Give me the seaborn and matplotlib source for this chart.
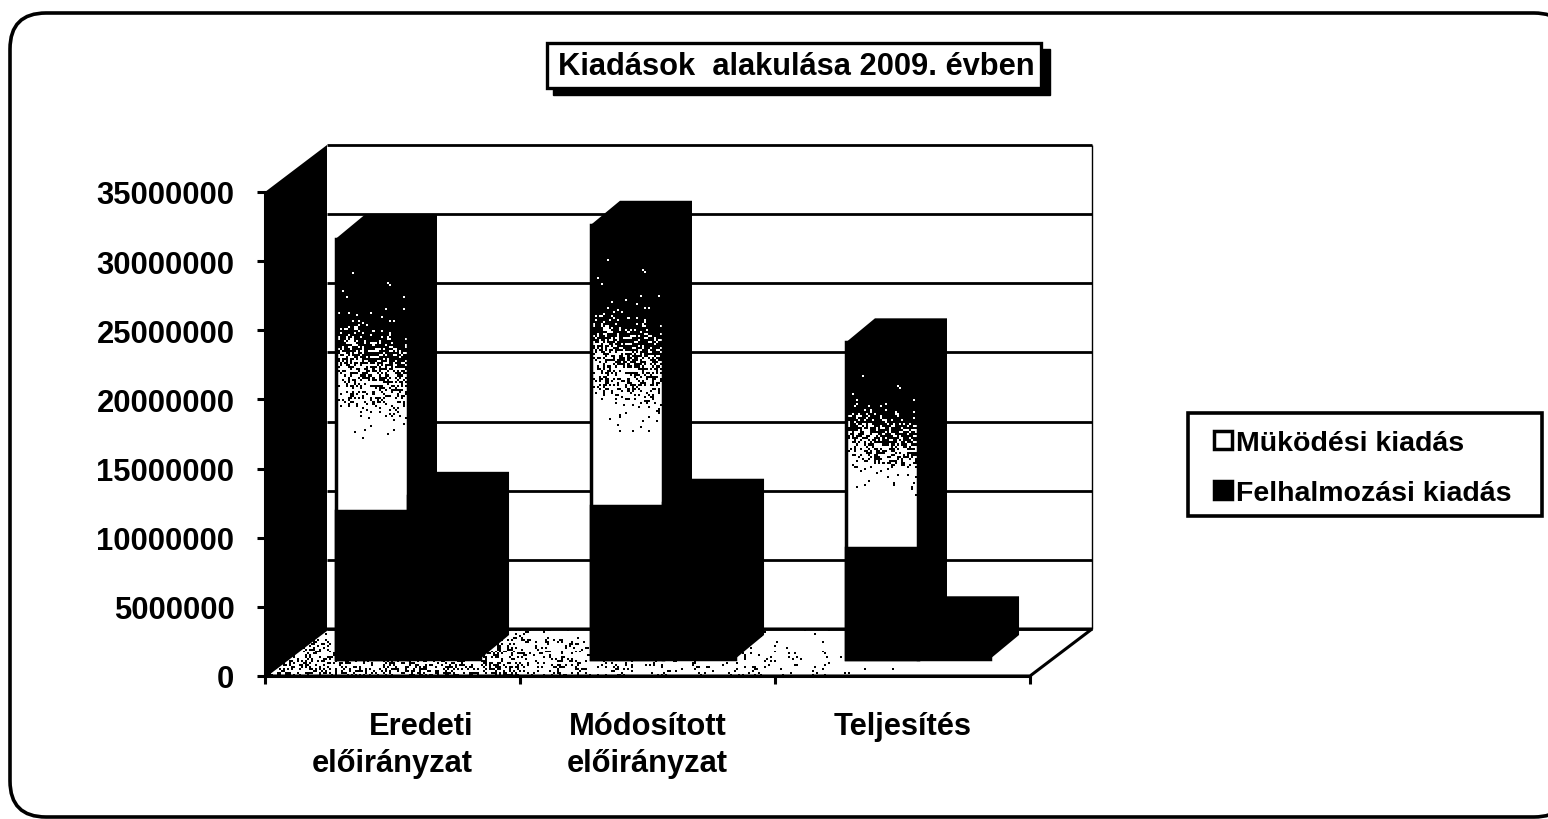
import numpy as np
import pandas as pd
import seaborn as sns
import matplotlib.pyplot as plt
from matplotlib.patches import FancyBboxPatch, Rectangle, Polygon

W, H = 1548, 820

categories = ["Eredeti\nelőirányzat", "Módosított\nelőirányzat", "Teljesítés"]
series_names = ["Müködési kiadás", "Felhalmozási kiadás"]
mukodesi = [30400000, 31400000, 22900000]
felhalmozasi = [11800000, 11300000, 2800000]
# dark lower part of the white bars (gradient fill in the original)
mukodesi_dark = [10700000, 11100000, 8000000]
y_ticks = [0, 5000000, 10000000, 15000000, 20000000, 25000000, 30000000, 35000000]
y_labels = ["0", "5000000", "10000000", "15000000", "20000000", "25000000", "30000000", "35000000"]

# axes box in pixels, the rest follows from it
left, right, top, bottom = 265, 1030, 193, 677
px_x = 3 / (right - left)
px_y = 35000000 / (bottom - top)

wall_dx, wall_dy = 62 * px_x, 47 * px_y      # depth of the whole chart
plane_dx, plane_dy = 15.5 * px_x, 17 * px_y  # where bar fronts stand on the floor
bar_dx, bar_dy = 29 * px_x, 24 * px_y        # depth of a bar


def speckle(shape):
    # stipple texture for the scanned look, not data
    r, c = np.indices(shape)
    v = np.sin(r * 12.9898 + c * 78.233) * 43758.5453
    return v - np.floor(v)


def stipple_image(density):
    img = np.ones(density.shape + (4,))
    img[..., :3] = 0
    img[..., 3] = speckle(density.shape) < density
    return img


sns.set_theme(style="white")
plt.rcParams["font.family"] = ["Liberation Sans", "DejaVu Sans"]
plt.rcParams["font.weight"] = "bold"

fig = plt.figure(figsize=(W / 100, H / 100), dpi=100, facecolor="white")

# frame, title box and legend box live on a full figure layer in pixels
bg = fig.add_axes([0, 0, 1, 1], zorder=0)
bg.set_xlim(0, W)
bg.set_ylim(H, 0)
bg.axis("off")
bg.add_patch(FancyBboxPatch((10, 14), 1560, 804, boxstyle="round,pad=0,rounding_size=36",
                            fc="white", ec="black", lw=2.6, clip_on=True))
bg.add_patch(Rectangle((553, 50), 497, 46, fc="black", ec="black"))
bg.add_patch(Rectangle((547, 44), 494, 45, fc="white", ec="black", lw=2.4))
bg.text(796, 67, "Kiadások  alakulása 2009. évben", ha="center", va="center", fontsize=22.2,
        fontweight="bold", color="black")
bg.add_patch(Rectangle((1188, 414), 354, 103, fc="white", ec="black", lw=2.6))

ax = fig.add_axes([left / W, 1 - bottom / H, (right - left) / W, (bottom - top) / H], zorder=1)
ax.patch.set_alpha(0)

df = pd.DataFrame({"kategoria": categories, series_names[0]: mukodesi, series_names[1]: felhalmozasi})
df = df.melt(id_vars="kategoria", var_name="sorozat", value_name="ertek")
sns.barplot(data=df, x="kategoria", y="ertek", hue="sorozat", palette=["white", "black"],
            width=0.565, gap=0, edgecolor="black", linewidth=2.5, saturation=1, zorder=5, ax=ax)
ax.set_ylim(0, 35000000)
ax.set_xlim(-0.5, 2.5)

# floor
floor_xy = [(-0.5, 0), (2.5, 0), (2.5 + wall_dx, wall_dy), (-0.5 + wall_dx, wall_dy)]
floor = Polygon(floor_xy, fc="white", ec="black", lw=2.2, zorder=1, clip_on=False)
ax.add_patch(floor)
rows, cols = 24, (right - left + 62) // 2
col_px = np.linspace(left, right + 62, cols)
floor_density = np.interp(col_px, [265, 340, 500, 590, 770, 850, 1030], [0.26, 0.26, 0.28, 0.1, 0.08, 0.02, 0.0])
row_fade = np.linspace(0.5, 1.4, rows)[:, None]
floor_img = ax.imshow(stipple_image(row_fade * floor_density[None, :]), aspect="auto", origin="upper",
                      extent=(-0.5, 2.5 + wall_dx, 0, wall_dy), interpolation="nearest", zorder=2, clip_on=True)
floor_img.set_clip_path(floor)

# back wall with grid lines, left wall
ax.hlines(np.array(y_ticks) + wall_dy, -0.5 + wall_dx, 2.5 + wall_dx, color="black", lw=2, zorder=1, clip_on=False)
ax.vlines(2.5 + wall_dx, wall_dy, 35000000 + wall_dy, color="black", lw=1, zorder=1, clip_on=False)
ax.fill([-0.5, -0.5 + wall_dx, -0.5 + wall_dx, -0.5],
        [0, wall_dy, 35000000 + wall_dy, 35000000], color="black", lw=0, zorder=3, clip_on=False)

# bars: move to their floor position, add black top and side faces
n = len(categories)
white_bars = ax.patches[:n]
black_bars = ax.patches[n:2 * n]
for bars in (white_bars, black_bars):
    for bar in bars[:n]:
        bar.set_x(bar.get_x() + plane_dx)
        bar.set_y(plane_dy)
        bar.set_clip_on(False)
        x0, w, v = bar.get_x(), bar.get_width(), bar.get_height() + plane_dy
        ax.fill([x0, x0 + bar_dx, x0 + w + bar_dx, x0 + w + bar_dx, x0 + w, x0 + w],
                [v, v + bar_dy, v + bar_dy, plane_dy + bar_dy, plane_dy, v],
                color="black", lw=0, zorder=4, clip_on=False)

band_pos = [0, 0.26, 0.38, 0.5, 0.62, 0.72]
band_density = [1, 0.985, 0.72, 0.36, 0.05, 0]
for bar, dark in zip(white_bars, mukodesi_dark):
    x0, w, v = bar.get_x(), bar.get_width(), bar.get_height() + plane_dy
    ax.add_patch(Rectangle((x0, plane_dy), w, dark, fc="black", ec="black", lw=2.5, zorder=6, clip_on=False))
    nrows = int((v - dark - plane_dy) / px_y / 2)
    ncols = int(w / px_x / 2)
    frac = np.linspace(0, 1, nrows)[:, None]
    # the speckled band runs a bit lower on the right side of the bar
    tilt = np.linspace(0, 0.07, ncols)[None, :]
    dens = np.interp(np.clip(frac - tilt, 0, 1), band_pos, band_density)
    ax.imshow(stipple_image(dens), aspect="auto", origin="upper", extent=(x0, x0 + w, dark + plane_dy, v),
              interpolation="nearest", zorder=6, clip_on=False)

ax.set_xlim(-0.5, 2.5)
ax.set_ylim(0, 35000000)

# ticks between the categories, labels in the middle
ax.set_xticks([-0.5, 0.5, 1.5, 2.5], labels=[])
ax.set_xticks(range(n), labels=categories, minor=True)
ax.set_yticks(y_ticks, labels=y_labels)
ax.tick_params(axis="both", which="major", direction="out", length=6, width=2.2, color="black", bottom=True, left=True)
ax.tick_params(axis="x", which="minor", length=0, pad=25, labelsize=22.2)
ax.tick_params(axis="y", labelsize=22.3, pad=16)
for lab in ax.get_xticklabels(minor=True):
    lab.set_fontweight("bold")
    lab.set_linespacing(1.3)
    lab.set_color("black")
ax.get_xticklabels(minor=True)[0].set_multialignment("right")
for lab in ax.get_yticklabels():
    lab.set_fontweight("bold")
    lab.set_color("black")
ax.set_xlabel("")
ax.set_ylabel("")
sns.despine(ax=ax, top=True, right=True)
for s in ("left", "bottom"):
    ax.spines[s].set_color("black")
    ax.spines[s].set_linewidth(2.2)

handles, labels = ax.get_legend_handles_labels()
leg = ax.legend(handles[:2], labels[:2], loc="upper left", bbox_to_anchor=(1214 / W, 1 - 431 / H),
                bbox_transform=fig.transFigure, fontsize=20.5, frameon=False, borderaxespad=0,
                borderpad=0, handlelength=0.62, handleheight=0.62, handletextpad=0.15, labelspacing=0.85)
leg.set_zorder(20)
for t in leg.get_texts():
    t.set_fontweight("bold")
    t.set_color("black")

fig.savefig("out.png", dpi=100)
